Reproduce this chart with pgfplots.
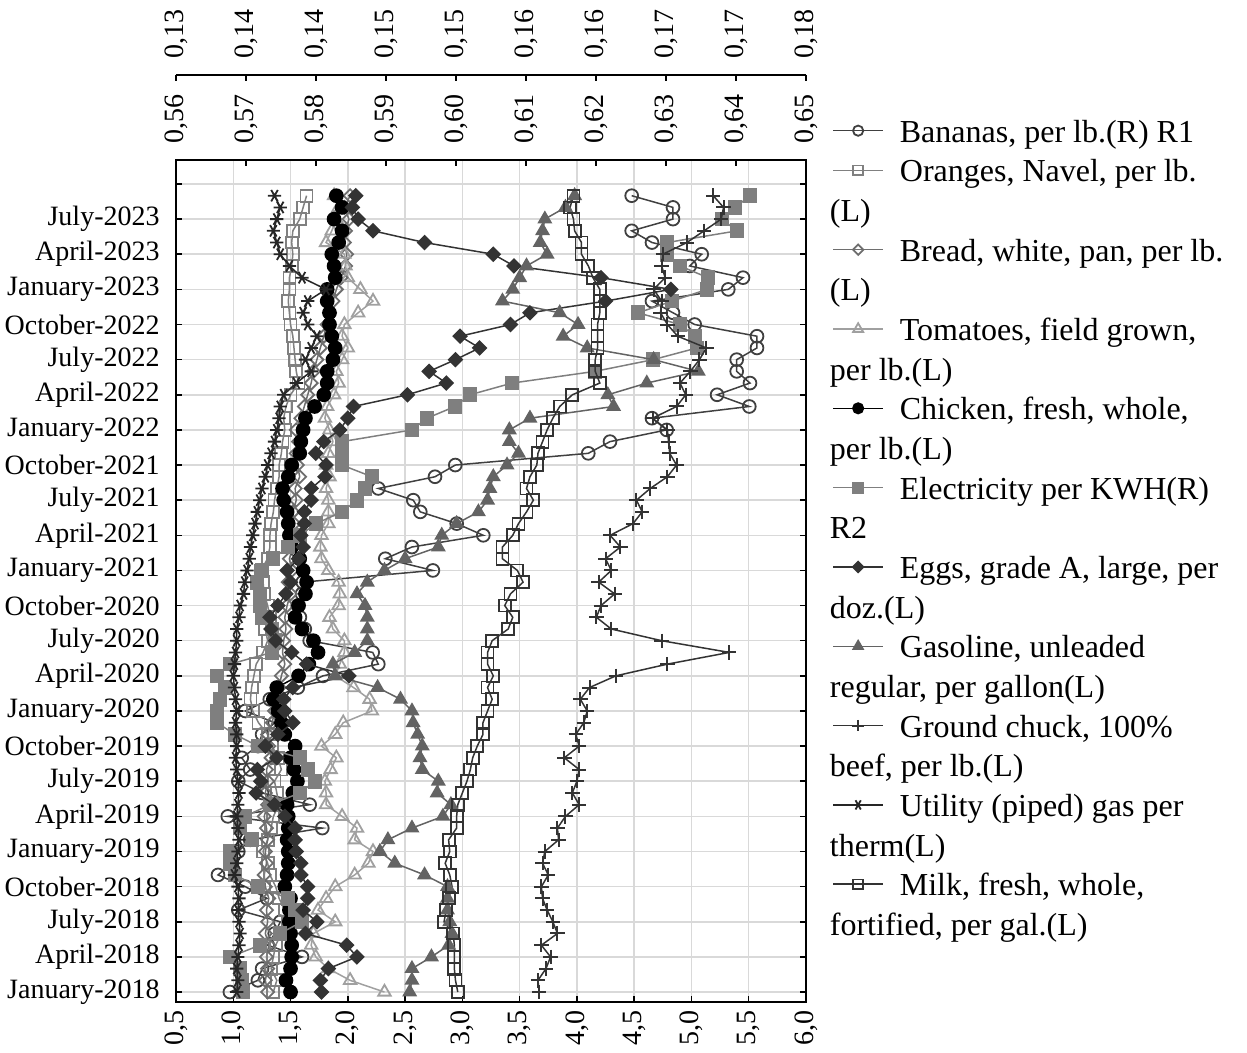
\documentclass[border=0pt]{standalone}
\usepackage{fontspec}
\setmainfont{Liberation Serif}
\usepackage{pgfplots}
\usepackage{pgfplotstable}
\pgfplotsset{compat=1.18}
\definecolor{cBan}{HTML}{404040}
\definecolor{cOra}{HTML}{808080}
\definecolor{cBre}{HTML}{6E6E6E}
\definecolor{cTom}{HTML}{A0A0A0}
\definecolor{cEle}{HTML}{7F7F7F}
\definecolor{cEgg}{HTML}{333333}
\definecolor{cGas}{HTML}{636363}
\definecolor{cBee}{HTML}{333333}
\definecolor{cUti}{HTML}{262626}
\definecolor{cMil}{HTML}{333333}
\definecolor{gridc}{HTML}{D9D9D9}
\pgfplotsset{
  sBan/.style={color=cBan, line width=0.75pt, mark=o, mark size=3.2pt, mark options={solid, line width=0.9pt}},
  sOra/.style={color=cOra, line width=0.75pt, mark=square, mark size=3pt, mark options={solid, line width=0.9pt}},
  sBre/.style={color=cBre, line width=0.75pt, mark=square, mark size=2.3pt, mark options={solid, line width=0.9pt, rotate=45}},
  sTom/.style={color=cTom, line width=0.75pt, mark=triangle, mark size=3.6pt, mark options={solid, line width=0.9pt}},
  sChi/.style={color=black, line width=0.75pt, mark=*, mark size=3.3pt, mark options={solid, fill=black}},
  sEle/.style={color=cEle, line width=0.75pt, mark=square*, mark size=3.3pt, mark options={solid, fill=cEle}},
  sEgg/.style={color=cEgg, line width=0.75pt, mark=square*, mark size=2.4pt, mark options={solid, fill=cEgg, rotate=45}},
  sGas/.style={color=cGas, line width=0.75pt, mark=triangle*, mark size=3.6pt, mark options={solid, fill=cGas}},
  sBee/.style={color=cBee, line width=0.75pt, mark=+, mark size=3.6pt, mark options={solid, line width=1pt}},
  sUti/.style={color=cUti, line width=0.75pt, mark=asterisk, mark size=3.3pt, mark options={solid, line width=0.9pt, rotate=90}},
  sMil/.style={color=cMil, line width=0.75pt, mark=square, mark size=3pt, mark options={solid, line width=0.9pt}},
  base/.style={scale only axis, width=315pt, height=421pt, ymin=-0.85, ymax=71.05,
     tick align=inside, major tick length=3pt, tick style={black, line width=0.75pt},
     axis line style={line width=1pt}},
}
\newcommand{\lrule}{\rule[-5.9pt]{0pt}{19.5pt}}
\newcommand{\legA}[1]{\lrule #1}
\newcommand{\legC}[1]{\lrule\makebox[0pt][l]{\hspace*{-35.5pt}#1}}
\begin{document}
\pgfplotstableread{
m ban ora bre tom chi ele egg gas bee uti mil
0 0.5677 1.35 1.30 2.32 1.50 0.13532 1.77 2.54 3.67 1.03 2.96
1 0.5717 1.38 1.28 2.02 1.46 0.13524 1.76 2.56 3.66 1.04 2.94
2 0.5723 1.33 1.30 1.83 1.50 0.13508 1.83 2.56 3.73 1.03 2.93
3 0.5780 1.35 1.29 1.72 1.51 0.13429 2.08 2.73 3.77 1.04 2.93
4 0.5731 1.37 1.31 1.68 1.51 0.13667 1.99 2.88 3.69 1.05 2.93
5 0.5741 1.42 1.28 1.70 1.50 0.13825 1.63 2.91 3.83 1.06 2.92
6 0.5749 1.48 1.30 1.89 1.49 0.14000 1.73 2.89 3.79 1.05 2.84
7 0.5689 1.45 1.29 1.74 1.49 0.13944 1.61 2.87 3.74 1.04 2.86
8 0.5730 1.40 1.31 1.81 1.50 0.13889 1.65 2.87 3.70 1.05 2.88
9 0.5699 1.37 1.28 1.89 1.45 0.13651 1.65 2.87 3.69 1.04 2.91
10 0.5660 1.32 1.27 2.06 1.47 0.13468 1.59 2.67 3.75 1.01 2.89
11 0.5680 1.30 1.29 2.18 1.48 0.13429 1.59 2.41 3.70 1.03 2.85
12 0.5689 1.26 1.28 2.22 1.48 0.13429 1.55 2.28 3.72 1.04 2.89
13 0.5706 1.30 1.30 2.06 1.47 0.13603 1.54 2.35 3.84 1.05 2.88
14 0.5809 1.33 1.29 2.08 1.48 0.13508 1.54 2.56 3.83 1.04 2.95
15 0.5674 1.35 1.27 1.95 1.48 0.13548 1.45 2.83 3.90 1.03 2.95
16 0.5791 1.40 1.30 1.81 1.47 0.13746 1.36 2.90 4.02 1.04 2.96
17 0.5723 1.38 1.28 1.81 1.52 0.13984 1.20 2.78 3.96 1.05 3.00
18 0.5689 1.36 1.30 1.80 1.56 0.14103 1.24 2.79 4.00 1.04 3.04
19 0.5706 1.42 1.29 1.85 1.53 0.14048 1.21 2.65 4.02 1.03 3.07
20 0.5694 1.39 1.33 1.90 1.50 0.13984 1.38 2.63 3.89 1.02 3.09
21 0.5717 1.34 1.31 1.77 1.54 0.13651 1.28 2.65 4.02 1.03 3.13
22 0.5723 1.30 1.30 1.89 1.45 0.13468 1.39 2.61 3.99 1.03 3.18
23 0.5741 1.22 1.34 1.96 1.42 0.13325 1.52 2.57 4.06 1.02 3.18
24 0.5699 1.17 1.36 2.21 1.39 0.13325 1.45 2.56 4.09 1.03 3.22
25 0.5734 1.15 1.38 2.19 1.35 0.13349 1.44 2.46 4.03 1.02 3.26
26 0.5774 1.16 1.40 2.05 1.38 0.13389 1.52 2.26 4.11 1.01 3.22
27 0.5810 1.18 1.42 1.89 1.57 0.13325 2.01 1.89 4.34 1.00 3.27
28 0.5889 1.20 1.45 1.93 1.66 0.13429 1.64 1.87 4.79 1.01 3.22
29 0.5881 1.26 1.43 1.97 1.74 0.13762 1.51 2.06 5.33 1.02 3.22
30 0.5791 1.30 1.44 1.97 1.70 0.13786 1.37 2.17 4.74 1.03 3.26
31 0.5784 1.28 1.46 1.87 1.60 0.13762 1.33 2.17 4.30 1.03 3.40
32 0.5777 1.32 1.45 1.84 1.54 0.13683 1.32 2.17 4.17 1.05 3.44
33 0.5774 1.30 1.47 1.92 1.57 0.13667 1.39 2.15 4.21 1.06 3.37
34 0.5780 1.27 1.50 1.93 1.63 0.13667 1.46 2.08 4.33 1.09 3.42
35 0.5781 1.26 1.48 1.92 1.64 0.13643 1.50 2.17 4.19 1.10 3.53
36 0.5967 1.24 1.51 1.83 1.61 0.13683 1.47 2.32 4.30 1.12 3.48
37 0.5899 1.30 1.49 1.77 1.58 0.13770 1.57 2.50 4.25 1.14 3.35
38 0.5937 1.32 1.52 1.76 1.51 0.13889 1.61 2.79 4.38 1.15 3.35
39 0.6039 1.32 1.50 1.77 1.49 0.13984 1.59 2.82 4.29 1.17 3.44
40 0.6001 1.33 1.53 1.83 1.48 0.14111 1.62 2.95 4.49 1.19 3.49
41 0.5949 1.35 1.52 1.83 1.47 0.14317 1.62 3.14 4.57 1.21 3.56
42 0.5939 1.36 1.55 1.83 1.44 0.14437 1.68 3.22 4.52 1.23 3.62
43 0.5889 1.38 1.54 1.81 1.43 0.14500 1.68 3.24 4.64 1.25 3.56
44 0.5970 1.40 1.58 1.84 1.48 0.14556 1.80 3.27 4.79 1.28 3.59
45 0.5999 1.40 1.56 1.81 1.51 0.14317 1.81 3.39 4.87 1.30 3.65
46 0.6189 1.42 1.55 1.83 1.58 0.14317 1.72 3.49 4.81 1.33 3.66
47 0.6220 1.43 1.57 1.87 1.59 0.14317 1.79 3.41 4.80 1.36 3.70
48 0.6301 1.45 1.55 1.84 1.61 0.14873 1.93 3.41 4.79 1.38 3.74
49 0.6280 1.44 1.59 1.80 1.63 0.14992 2.00 3.59 4.66 1.40 3.79
50 0.6419 1.46 1.62 1.82 1.71 0.15214 2.05 4.32 4.87 1.41 3.85
51 0.6373 1.50 1.65 1.88 1.79 0.15333 2.52 4.27 4.95 1.44 3.96
52 0.6420 1.57 1.68 1.92 1.82 0.15667 2.86 4.61 4.90 1.55 4.20
53 0.6401 1.55 1.70 1.90 1.82 0.16325 2.71 5.06 4.99 1.68 4.16
54 0.6401 1.54 1.73 1.95 1.87 0.16786 2.94 4.67 5.07 1.63 4.16
55 0.6430 1.53 1.76 2.00 1.89 0.17135 3.15 4.09 5.13 1.68 4.18
56 0.6430 1.52 1.79 1.95 1.86 0.17119 2.98 3.88 4.88 1.73 4.18
57 0.6341 1.50 1.82 1.97 1.84 0.17000 3.42 4.01 4.79 1.65 4.18
58 0.6310 1.49 1.84 2.09 1.84 0.16667 3.59 3.85 4.73 1.61 4.20
59 0.6280 1.48 1.87 2.22 1.82 0.16937 4.25 3.35 4.74 1.65 4.20
60 0.6389 1.49 1.90 2.11 1.82 0.17214 4.82 3.44 4.67 1.81 4.20
61 0.6410 1.49 1.94 2.00 1.89 0.17222 4.21 3.50 4.77 1.60 4.14
62 0.6334 1.51 1.98 1.98 1.88 0.17000 3.45 3.56 4.74 1.49 4.10
63 0.6351 1.52 1.99 1.97 1.86 0.16897 3.27 3.74 4.75 1.41 4.04
64 0.6280 1.51 1.97 1.81 1.92 0.16897 2.67 3.68 4.96 1.38 4.04
65 0.6251 1.52 1.98 1.86 1.95 0.17452 2.22 3.70 5.11 1.35 3.98
66 0.6310 1.58 2.01 1.90 1.88 0.17333 2.09 3.72 5.26 1.38 3.97
67 0.6310 1.61 1.97 1.92 1.95 0.17437 2.04 3.90 5.28 1.41 3.94
68 0.6251 1.64 2.02 1.88 1.90 0.17556 2.07 3.98 5.19 1.36 3.97
}\data
\begin{tikzpicture}[font=\fontsize{14}{16}\selectfont]
% background axis: frame, grid, L ticks, month ticks
\begin{axis}[base, xmin=0.5, xmax=6.0,
  grid=major, major grid style={draw=gridc, line width=0.75pt},
  xtick={0.5,1,1.5,2,2.5,3,3.5,4,4.5,5,5.5,6},
  xticklabels={{0,5},{1,0},{1,5},{2,0},{2,5},{3,0},{3,5},{4,0},{4,5},{5,0},{5,5},{6,0}},
  xtick pos=left,
  xticklabel style={rotate=90, anchor=east, inner sep=0pt},
  xticklabel shift=4pt,
  ytick={0,3,6,9,12,15,18,21,24,27,30,33,36,39,42,45,48,51,54,57,60,63,66,69},
  yticklabels={January-2018,April-2018,July-2018,October-2018,January-2019,April-2019,July-2019,October-2019,January-2020,April-2020,July-2020,October-2020,January-2021,April-2021,July-2021,October-2021,January-2022,April-2022,July-2022,October-2022,January-2023,April-2023,July-2023,{}},
  ytick pos=both, yticklabel pos=left,
  yticklabel style={anchor=east, inner sep=0pt},
  yticklabel shift=8pt,
]
\end{axis}
% R1 axis: bananas
\begin{axis}[base, xmin=0.56, xmax=0.65, hide y axis,
  xtick={0.56,0.57,0.58,0.59,0.60,0.61,0.62,0.63,0.64,0.65},
  xticklabels={{0,56},{0,57},{0,58},{0,59},{0,60},{0,61},{0,62},{0,63},{0,64},{0,65}},
  xtick pos=right, xticklabel pos=right,
  xticklabel style={rotate=90, anchor=west, inner sep=0pt},
  xticklabel shift=8pt,
]
\addplot[sBan] table[x=ban, y=m]{\data};
\end{axis}
% L axis part 1
\begin{axis}[base, xmin=0.5, xmax=6.0, hide axis]
\addplot[sOra] table[x=ora, y=m]{\data};
\addplot[sBre] table[x=bre, y=m]{\data};
\addplot[sTom] table[x=tom, y=m]{\data};
\addplot[sChi] table[x=chi, y=m]{\data};
\end{axis}
% R2 axis: electricity (taller, line above)
\begin{axis}[base, height=463.5pt, ymax=78.31, xmin=0.13, xmax=0.18, hide y axis,
  xtick={0.13,0.135556,0.141111,0.146667,0.152222,0.157778,0.163333,0.168889,0.174444,0.18},
  xticklabels={{0,13},{0,14},{0,14},{0,15},{0,15},{0,16},{0,16},{0,17},{0,17},{0,18}},
  xtick pos=right, xticklabel pos=right,
  xticklabel style={rotate=90, anchor=west, inner sep=0pt},
  xticklabel shift=8pt,
]
\addplot[sEle] table[x=ele, y=m]{\data};
\end{axis}
% L axis part 2 + legend
\begin{axis}[base, xmin=0.5, xmax=6.0, hide axis,
  legend image code/.code={\draw[mark repeat=2,mark phase=2,#1] plot coordinates {(0pt,5.8pt) (12.5pt,5.8pt) (25pt,5.8pt)};},
  legend image post style={/tikz/every mark/.append style={scale=0.8}},
  legend style={at={(1,1)}, anchor=north west, xshift=13pt, yshift=22.65pt,
    draw=none, fill=none, inner sep=0pt, row sep=4.73pt,
    font=\fontsize{16}{19.5}\selectfont,
    nodes={inner sep=0pt},
    cells={anchor=base west},
    /tikz/every odd column/.append style={column sep=8pt}},
]
\addlegendimage{sBan}\addlegendentry{\legA{Bananas, per lb.(R) R1}}
\addlegendimage{sOra}\addlegendentry{\legA{Oranges, Navel, per lb.}}
\addlegendimage{empty legend}\addlegendentry{\legC{(L)}}
\addlegendimage{sBre}\addlegendentry{\legA{Bread, white, pan, per lb.}}
\addlegendimage{empty legend}\addlegendentry{\legC{(L)}}
\addlegendimage{sTom}\addlegendentry{\legA{Tomatoes, field grown,}}
\addlegendimage{empty legend}\addlegendentry{\legC{per lb.(L)}}
\addlegendimage{sChi}\addlegendentry{\legA{Chicken, fresh, whole,}}
\addlegendimage{empty legend}\addlegendentry{\legC{per lb.(L)}}
\addlegendimage{sEle}\addlegendentry{\legA{Electricity per KWH(R)}}
\addlegendimage{empty legend}\addlegendentry{\legC{R2}}
\addplot[sEgg] table[x=egg, y=m]{\data};
\addlegendentry{\legA{Eggs, grade A, large, per}}
\addlegendimage{empty legend}\addlegendentry{\legC{doz.(L)}}
\addplot[sGas] table[x=gas, y=m]{\data};
\addlegendentry{\legA{Gasoline, unleaded}}
\addlegendimage{empty legend}\addlegendentry{\legC{regular, per gallon(L)}}
\addplot[sBee] table[x=bee, y=m]{\data};
\addlegendentry{\legA{Ground chuck, 100\%}}
\addlegendimage{empty legend}\addlegendentry{\legC{beef, per lb.(L)}}
\addplot[sUti] table[x=uti, y=m]{\data};
\addlegendentry{\legA{Utility (piped) gas per}}
\addlegendimage{empty legend}\addlegendentry{\legC{therm(L)}}
\addplot[sMil] table[x=mil, y=m]{\data};
\addlegendentry{\legA{Milk, fresh, whole,}}
\addlegendimage{empty legend}\addlegendentry{\legC{fortified, per gal.(L)}}
\end{axis}
\pgfresetboundingbox
\useasboundingbox (-88pt,-25.5pt) rectangle (535.5pt,501pt);
\end{tikzpicture}
\end{document}
